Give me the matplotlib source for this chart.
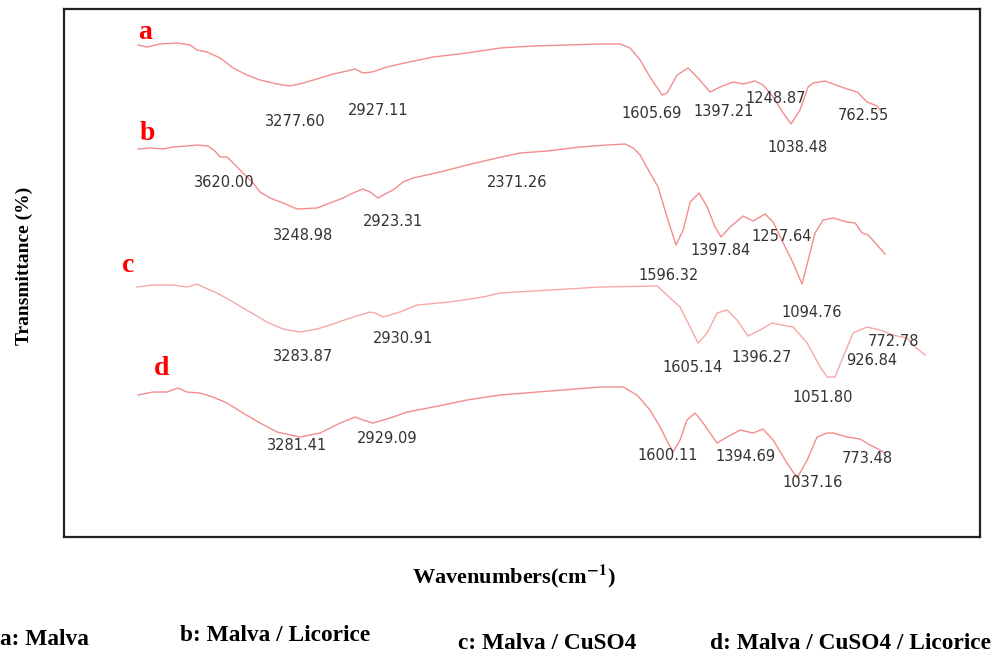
import matplotlib
matplotlib.use("Agg")
import matplotlib.pyplot as plt

# --- FTIR spectra (wavenumber in cm-1, transmittance in a.u. incl. offset) ---
wn_a = [3955, 3915, 3857, 3781, 3723, 3692, 3647, 3589, 3531, 3469, 3411, 3335, 3277, 3219,
        3143, 3085, 3023, 2987, 2952, 2912, 2845, 2787, 2639, 2488, 2341, 2193, 2042, 1895,
        1805, 1761, 1716, 1672, 1618, 1596, 1551, 1502, 1458, 1404, 1359, 1301, 1257, 1203,
        1168, 1123, 1078, 1043, 1003, 967, 945, 891, 855, 793, 748, 704, 659, 646]
t_a = [612, 610, 613, 614, 612, 607, 605, 599, 589, 582, 577, 573, 571, 574,
       579, 583, 586, 588, 584, 585, 590, 593, 600, 604, 609, 611, 612, 613,
       613, 609, 597, 580, 562, 564, 582, 589, 579, 565, 570, 575, 573, 576,
       572, 560, 544, 533, 547, 570, 574, 576, 573, 568, 565, 555, 551, 547]

wn_b = [3955, 3902, 3844, 3799, 3737, 3692, 3643, 3612, 3589, 3558, 3531, 3487, 3442, 3411,
        3366, 3308, 3246, 3157, 3099, 3041, 2996, 2952, 2920, 2885, 2845, 2818, 2773, 2729,
        2608, 2488, 2354, 2251, 2131, 1984, 1863, 1783, 1747, 1716, 1672, 1636, 1596, 1556,
        1524, 1493, 1453, 1417, 1382, 1355, 1315, 1257, 1212, 1159, 1123, 1078, 1034, 994,
        963, 936, 900, 855, 793, 757, 726, 699, 659, 624]
t_b = [508, 509, 508, 510, 511, 512, 511, 506, 500, 500, 494, 484, 474, 465,
       459, 454, 448, 449, 454, 459, 464, 468, 465, 459, 464, 467, 475, 479,
       485, 492, 499, 504, 506, 510, 512, 513, 509, 502, 484, 470, 440, 412,
       427, 455, 464, 450, 430, 420, 430, 441, 436, 443, 435, 414, 394, 373,
       400, 424, 437, 439, 435, 434, 424, 422, 412, 403]

wn_c = [3960, 3888, 3799, 3737, 3692, 3665, 3603, 3531, 3456, 3380, 3308, 3233, 3157, 3085,
        3010, 2920, 2898, 2862, 2787, 2711, 2564, 2416, 2341, 2118, 1895, 1640, 1582, 1538,
        1493, 1458, 1417, 1373, 1328, 1284, 1235, 1181, 1128, 1083, 1034, 971, 913, 882,
        847, 811, 766, 704, 646, 588, 525, 490, 445]
t_c = [370, 372, 372, 370, 373, 370, 364, 355, 345, 335, 328, 325, 328, 333,
       339, 345, 344, 340, 345, 352, 355, 360, 364, 367, 370, 371, 359, 350,
       330, 314, 324, 344, 347, 337, 321, 327, 334, 332, 330, 314, 290, 280,
       280, 300, 324, 330, 327, 322, 319, 310, 302]

wn_d = [3955, 3888, 3826, 3777, 3737, 3679, 3621, 3558, 3487, 3411, 3335, 3233, 3143, 3054,
        2987, 2952, 2907, 2831, 2755, 2639, 2488, 2341, 2118, 1895, 1792, 1730, 1672, 1627,
        1591, 1569, 1538, 1507, 1471, 1435, 1373, 1328, 1270, 1212, 1168, 1123, 1061, 1016,
        971, 927, 882, 855, 793, 735, 690, 646, 624]
t_d = [262, 265, 265, 269, 265, 264, 260, 254, 244, 234, 225, 220, 224, 234,
       240, 237, 234, 239, 245, 250, 257, 262, 266, 270, 270, 262, 247, 230,
       214, 205, 217, 237, 244, 234, 214, 220, 227, 224, 228, 217, 194, 179,
       197, 220, 224, 224, 220, 218, 212, 207, 204]

# peak annotations as printed on the figure
peak_labels = ["3277.60", "2927.11", "1605.69", "1397.21", "1248.87", "1038.48", "762.55",
               "3620.00", "3248.98", "2923.31", "2371.26", "1596.32", "1397.84", "1257.64", "1094.76",
               "3283.87", "2930.91", "1605.14", "1396.27", "1051.80", "926.84", "772.78",
               "3281.41", "2929.09", "1600.11", "1394.69", "1037.16", "773.48"]
label_pos = [(3255, 536), (2885, 547), (1663, 544), (1342, 546), (1110, 559), (1012, 510), (722, 542),
             (3572, 475), (3219, 422), (2818, 436), (2265, 475), (1591, 382), (1359, 407), (1083, 421), (949, 345),
             (3219, 301), (2773, 319), (1480, 290), (1172, 300), (900, 260), (682, 297), (588, 316),
             (3246, 212), (2845, 219), (1591, 202), (1248, 201), (945, 175), (704, 199)]

series_names = ["a", "b", "c", "d"]
name_pos = [(3924, 625), (3915, 524), (4000, 392), (3848, 289)]
legend_texts = ["a: Malva", "b: Malva / Licorice", "c: Malva / CuSO4", "d: Malva / CuSO4 / Licorice"]

serif = ["Liberation Serif", "DejaVu Serif"]
plt.rcParams["mathtext.fontset"] = "stix"

fig = plt.figure(figsize=(9.93, 6.57), dpi=100)
ax = fig.add_axes([0.0645, 0.1826, 0.9225, 0.8037])

spectra = [(wn_a, t_a, 0.85), (wn_b, t_b, 0.85), (wn_c, t_c, 0.65), (wn_d, t_d, 0.85)]
for wn, t, al in spectra:
    ax.plot(wn, t, color="#f07a7a", lw=1.0, alpha=al, solid_joinstyle="round")

for txt, (x, y) in zip(peak_labels, label_pos):
    ax.text(x, y, txt, ha="center", va="center", fontsize=10.5, color="#333333",
            family="DejaVu Sans")

for nm, (x, y) in zip(series_names, name_pos):
    ax.text(x, y, nm, ha="center", va="center", fontsize=20, color="red",
            fontweight="bold", family=serif)

ax.set_xlim(4285, 200)
ax.set_ylim(120, 648)
ax.set_xticks([])
ax.set_yticks([])
for sp in ax.spines.values():
    sp.set_linewidth(1.6)
    sp.set_color("#222222")

fig.text(0.025, 0.595, "Transmittance (%)", rotation=90, ha="center", va="center",
         fontsize=14, fontweight="bold", family=serif)
fig.text(0.517, 0.122, r"Wavenumbers(cm$^{\mathbf{-1}}$)", ha="center", va="center",
         fontsize=16, fontweight="bold", family=serif)

legend_x = [0.0, 0.181, 0.461, 0.715]
legend_y = [0.026, 0.032, 0.021, 0.021]
for txt, x, y in zip(legend_texts, legend_x, legend_y):
    fig.text(x, y, txt, ha="left", va="center", fontsize=16.8, fontweight="bold", family=serif)

fig.savefig("out.png", dpi=100)
